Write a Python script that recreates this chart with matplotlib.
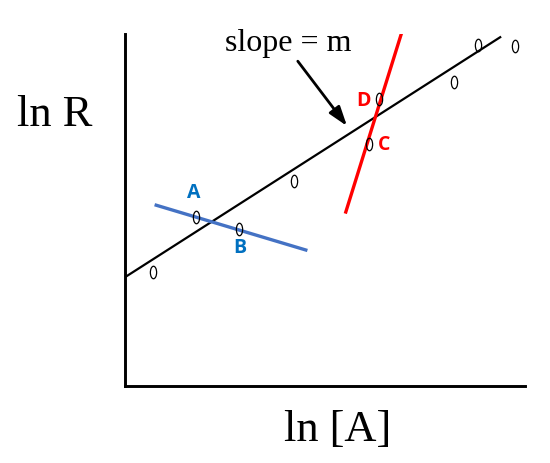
import numpy as np
import matplotlib
matplotlib.use("Agg")
import matplotlib.pyplot as plt
from matplotlib.path import Path
from matplotlib.transforms import Affine2D

# data points (ln[A], ln R)
ln_A = [0.7, 1.78, 2.85, 4.22, 6.1, 6.35, 8.22, 8.82, 9.75]
ln_R = [2.85, 4.22, 3.92, 5.12, 6.05, 7.18, 7.6, 8.52, 8.5]

# fitted line
fit_x = [0.0, 9.38]
fit_y = [2.72, 8.72]

# crossing lines
blue_x = [0.78, 4.52]
blue_y = [4.52, 3.4]
red_x = [5.52, 6.9]
red_y = [4.35, 8.78]

# point labels
lab_txt = ["A", "B", "D", "C"]
lab_x = [1.72, 2.88, 5.95, 6.48]
lab_y = [4.85, 3.47, 7.15, 6.05]
lab_col = ["#0070C0", "#0070C0", "#FF0000", "#FF0000"]

W, H = 550, 464
fig = plt.figure(figsize=(W / 100, H / 100), dpi=100)
ax = fig.add_axes([125 / W, (H - 387) / H, 400 / W, 352 / H])
ax.set_xlim(0, 10)
ax.set_ylim(0, 8.8)
ax.set_xticks([])
ax.set_yticks([])
for s in ["top", "right"]:
    ax.spines[s].set_visible(False)
for s in ["left", "bottom"]:
    ax.spines[s].set_linewidth(2.1)

ell = Path.unit_circle().transformed(Affine2D().scale(0.5, 1.0))

ax.plot(fit_x, fit_y, color="black", lw=1.6)
ax.plot(blue_x, blue_y, color="#4472C4", lw=2.4)
ax.plot(red_x, red_y, color="#FF0000", lw=2.4)
ax.plot(ln_A, ln_R, ls="none", marker=ell, ms=9, mfc="none", mec="black",
        mew=0.9, clip_on=False)

for t, x, y, c in zip(lab_txt, lab_x, lab_y, lab_col):
    ax.text(x, y, t, color=c, fontsize=14, fontweight="bold",
            family="Open Sans", ha="center", va="center")

ax.text(4.07, 8.6, "slope = m", family="Liberation Serif", fontsize=23,
        ha="center", va="center")
ax.annotate("", xy=(5.55, 6.5), xytext=(4.32, 8.12),
            arrowprops=dict(arrowstyle="-|>,head_length=0.9,head_width=0.3",
                            color="black", lw=2, mutation_scale=13,
                            shrinkA=0, shrinkB=0))

fig.text(55 / W, 1 - 115 / H, "ln R", family="Liberation Serif", fontsize=32,
         ha="center", va="center")
fig.text(338 / W, 1 - 430 / H, "ln [A]", family="Liberation Serif",
         fontsize=32, ha="center", va="center")

fig.savefig("out.png", dpi=100)
